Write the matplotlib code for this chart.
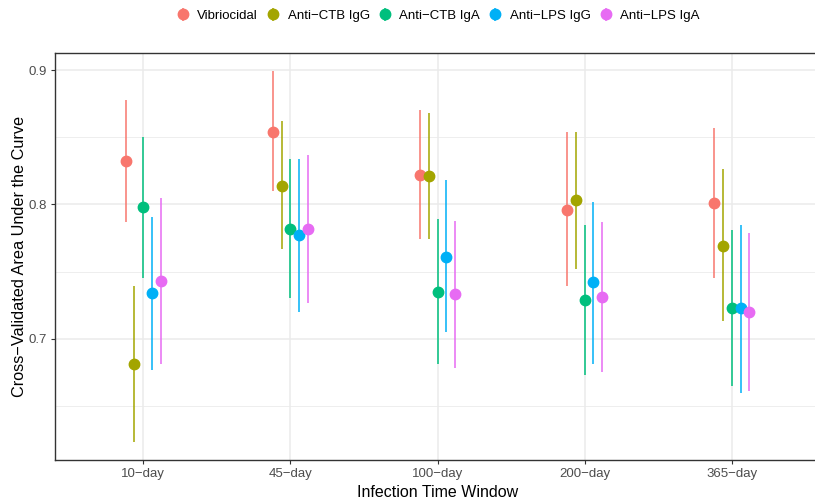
import matplotlib
matplotlib.use("Agg")
import matplotlib.pyplot as plt
import numpy as np

plt.rcParams['font.family'] = ['Liberation Sans', 'DejaVu Sans']

windows = ["10\u2212day", "45\u2212day", "100\u2212day", "200\u2212day", "365\u2212day"]
series = ["Vibriocidal", "Anti\u2212CTB IgG", "Anti\u2212CTB IgA", "Anti\u2212LPS IgG", "Anti\u2212LPS IgA"]
colors = ["#F8766D", "#A3A500", "#00BF7D", "#00B0F6", "#E76BF3"]

# point estimates per series across windows
est = {
    "Vibriocidal":     [0.832, 0.854, 0.822, 0.796, 0.801],
    "Anti\u2212CTB IgG": [0.681, 0.814, 0.821, 0.803, 0.769],
    "Anti\u2212CTB IgA": [0.798, 0.782, 0.735, 0.729, 0.723],
    "Anti\u2212LPS IgG": [0.734, 0.777, 0.761, 0.742, 0.723],
    "Anti\u2212LPS IgA": [0.743, 0.782, 0.733, 0.731, 0.720],
}
lower = {
    "Vibriocidal":     [0.787, 0.810, 0.774, 0.739, 0.745],
    "Anti\u2212CTB IgG": [0.623, 0.767, 0.774, 0.752, 0.713],
    "Anti\u2212CTB IgA": [0.745, 0.730, 0.681, 0.673, 0.665],
    "Anti\u2212LPS IgG": [0.677, 0.720, 0.705, 0.681, 0.660],
    "Anti\u2212LPS IgA": [0.681, 0.727, 0.678, 0.675, 0.661],
}
upper = {
    "Vibriocidal":     [0.878, 0.899, 0.870, 0.854, 0.857],
    "Anti\u2212CTB IgG": [0.739, 0.862, 0.868, 0.854, 0.826],
    "Anti\u2212CTB IgA": [0.850, 0.834, 0.789, 0.785, 0.781],
    "Anti\u2212LPS IgG": [0.791, 0.834, 0.818, 0.802, 0.785],
    "Anti\u2212LPS IgA": [0.805, 0.837, 0.788, 0.787, 0.779],
}

W, H = 815, 498
fig = plt.figure(figsize=(W / 100, H / 100), dpi=100)
left, right, top, bottom = 55, 820, 53, 460
ax = fig.add_axes([left / W, 1 - bottom / H, (right - left) / W, (bottom - top) / H])

x = np.arange(len(windows))
offsets = np.linspace(-0.12, 0.12, len(series))
handles = []
for s, c, off in zip(series, colors, offsets):
    e = np.array(est[s]); lo = np.array(lower[s]); hi = np.array(upper[s])
    h = ax.errorbar(x + off, e, yerr=[e - lo, hi - e], fmt='o', color=c,
                    markersize=7.5, elinewidth=1.1, capsize=0, label=s, zorder=3)
    handles.append(h)

ax.set_xlim(-0.6, len(windows) - 1 + 0.6)
ax.set_ylim(0.6098, 0.9127)
ax.set_xticks(x)
ax.set_xticklabels(windows)
ax.set_yticks([0.7, 0.8, 0.9])
ax.set_yticklabels(["0.7", "0.8", "0.9"])
ax.set_yticks([0.65, 0.75, 0.85], minor=True)
ax.grid(True, which='major', color='#EBEBEB', linewidth=1.1, zorder=0)
ax.grid(True, which='minor', axis='y', color='#EBEBEB', linewidth=0.6, zorder=0)
ax.set_axisbelow(True)
for sp in ax.spines.values():
    sp.set_color('#333333')
    sp.set_linewidth(1.0)
ax.tick_params(axis='both', which='major', length=3, width=0.8, color='#333333',
               labelcolor='#4D4D4D', labelsize=9.5, pad=3)
ax.tick_params(axis='both', which='minor', length=0)
ax.set_xlabel("Infection Time Window", fontsize=11.5, color='black', labelpad=3)
ax.set_ylabel("Cross\u2212Validated Area Under the Curve", fontsize=11.7, color='black', labelpad=1)

fig.legend(handles=handles, labels=series, loc='center', bbox_to_anchor=(438 / W, 1 - 16 / H),
           ncol=5, frameon=False, fontsize=9.5, handlelength=1.0, handletextpad=0.6,
           columnspacing=0.65, borderaxespad=0)

fig.savefig("out.png", dpi=100)
